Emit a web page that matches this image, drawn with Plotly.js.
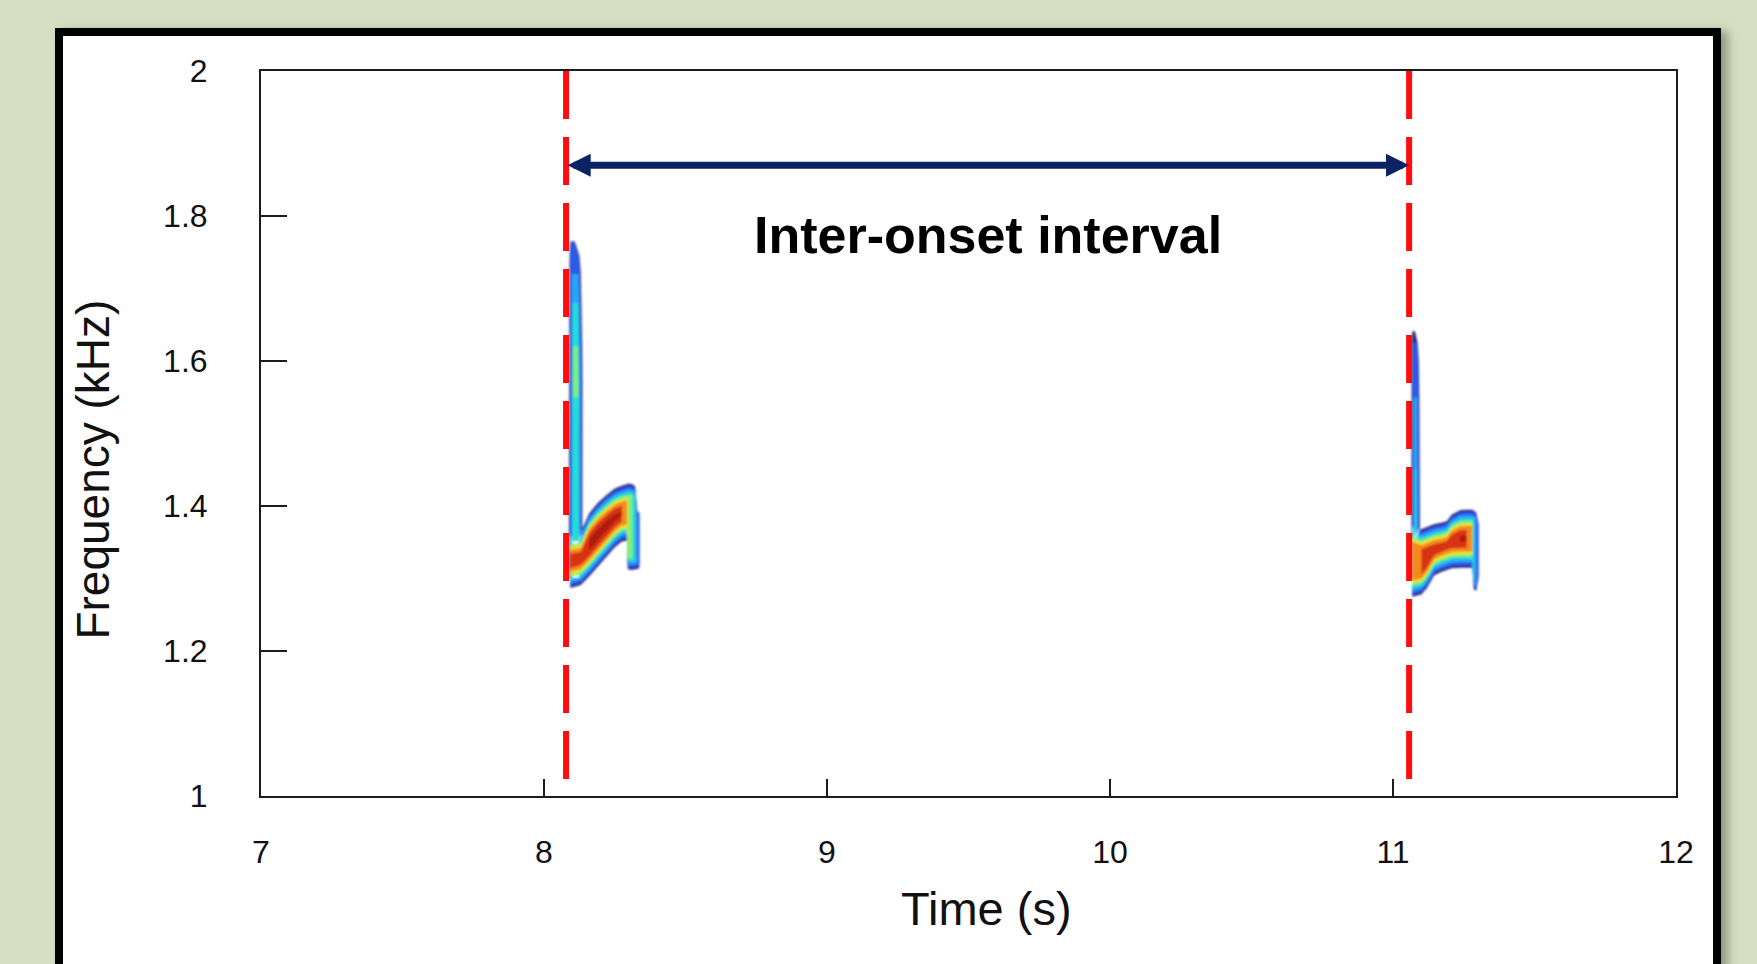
<!DOCTYPE html>
<html>
<head>
<meta charset="utf-8">
<script src="https://cdn.plot.ly/plotly-3.0.1.min.js"></script>
<style>
  html, body { margin: 0; padding: 0; }
  body { background: #d6dfc3; width: 1757px; height: 964px; overflow: hidden; position: relative; }
  #frame { position: absolute; left: 55px; top: 28px; width: 1650px; height: 1000px;
           border: 8px solid #000; background: #fff; box-shadow: 7px 3px 9px rgba(60,70,50,0.45); }
  #chart { position: absolute; left: 0; top: 0; width: 1757px; height: 964px; }
</style>
</head>
<body>
<div id="frame"></div>
<div id="chart"></div>
<script>
// ---------------- data ----------------
const xTickVals = [7, 8, 9, 10, 11, 12];
const xTickText = ['7', '8', '9', '10', '11', '12'];
const yTickVals = [1, 1.2, 1.4, 1.6, 1.8, 2];
const yTickText = ['1', '1.2', '1.4', '1.6', '1.8', '2'];
const xTitle = 'Time (s)';
const yTitle = 'Frequency (kHz)';

const onsets = [8.078, 11.057];        // s, call onsets (red dashed lines)
const arrowFreq = 1.87;                // kHz, height of the interval arrow
const labelFreq = 1.774;               // kHz, height of the label
const labelText = 'Inter-onset interval';

// Call 1: vertical stem (band across time, sampled along frequency)
const stem1F     = [1.300, 1.400, 1.500, 1.550, 1.570, 1.620, 1.645, 1.680, 1.720, 1.745, 1.765];
const stem1Left  = [8.088, 8.088, 8.088, 8.088, 8.088, 8.088, 8.088, 8.089, 8.090, 8.091, 8.093];
const stem1Right = [8.135, 8.135, 8.135, 8.136, 8.136, 8.135, 8.134, 8.133, 8.130, 8.125, 8.109];
const stem1Level = [3, 3, 3, 4, 4, 4, 3, 3, 2, 1, 1];

// Call 1: rising body (band across frequency, sampled along time)
const body1T     = [8.093, 8.130, 8.160, 8.190, 8.220, 8.250, 8.275, 8.293, 8.296, 8.303, 8.312, 8.322, 8.330, 8.337];
const body1Low   = [1.287, 1.291, 1.303, 1.316, 1.329, 1.343, 1.351, 1.352, 1.313, 1.312, 1.312, 1.312, 1.313, 1.315];
const body1High  = [1.362, 1.364, 1.390, 1.404, 1.415, 1.424, 1.428, 1.430, 1.431, 1.431, 1.430, 1.427, 1.393, 1.390];
const body1Level = [7, 7, 8, 8, 8, 8, 8, 6, 5, 4, 4, 3, 2, 1];

// Call 2: vertical stem
const stem2F     = [1.300, 1.400, 1.450, 1.500, 1.550, 1.600, 1.625, 1.641];
const stem2Left  = [11.065, 11.065, 11.065, 11.065, 11.065, 11.065, 11.066, 11.068];
const stem2Right = [11.096, 11.095, 11.094, 11.094, 11.093, 11.091, 11.087, 11.078];
const stem2Level = [3, 3, 3, 2, 2, 1, 1, 0];

// Call 2: body
const body2T     = [11.068, 11.100, 11.120, 11.145, 11.170, 11.190, 11.207, 11.237, 11.260, 11.280, 11.286, 11.294, 11.302];
const body2Low   = [1.275, 1.278, 1.287, 1.304, 1.309, 1.312, 1.314, 1.315, 1.315, 1.315, 1.285, 1.283, 1.300];
const body2High  = [1.373, 1.368, 1.371, 1.375, 1.377, 1.379, 1.388, 1.394, 1.395, 1.395, 1.394, 1.391, 1.377];
const body2Level = [6, 8, 7, 7, 7, 7, 7, 8, 8, 6, 3, 2, 1];

// ---------------- style ----------------
const levelColors = ['#2b2c7e', '#2a5cf0', '#2aa4f6', '#25dcd8', '#86f06c', '#f2e030', '#f58a1a', '#d83212', '#ae1a0a'];
const BODY_INSET_PX = [0, 2.5, 5.5, 8.5, 11, 13.5, 16, 20, 26];
const STEM_INSET_PX = [0, 1.1, 2.3, 3.4, 4.4];

const W = 1757, H = 964;
const margin = { l: 261, r: 81, t: 71, b: 168, pad: 0 };
const xRange = [7, 12], yRange = [1, 2];
const pxPerS = (W - margin.l - margin.r) / (xRange[1] - xRange[0]);
const pxPerKHz = (H - margin.t - margin.b) / (yRange[1] - yRange[0]);

const calls = [
  { stem: { f: stem1F, left: stem1Left, right: stem1Right, level: stem1Level },
    body: { t: body1T, low: body1Low, high: body1High, level: body1Level } },
  { stem: { f: stem2F, left: stem2Left, right: stem2Right, level: stem2Level },
    body: { t: body2T, low: body2Low, high: body2High, level: body2Level } }
];

function runs(levels, k) {
  const out = []; let cur = [];
  levels.forEach((v, i) => {
    if (v >= k) cur.push(i);
    else { if (cur.length > 1) out.push(cur); cur = []; }
  });
  if (cur.length > 1) out.push(cur);
  return out;
}

function bandPolygons(along, lo, hi, levels, k, inset) {
  return runs(levels, k).map(r => {
    const bounds = r.map(i => {
      let l = lo[i] + inset, h = hi[i] - inset;
      if (l > h) { const m = (lo[i] + hi[i]) / 2; l = m; h = m; }
      return [l, h];
    });
    const a = [], c = [];
    r.forEach((i, j) => { a.push(along[i]); c.push(bounds[j][0]); });
    for (let j = r.length - 1; j >= 0; j--) { a.push(along[r[j]]); c.push(bounds[j][1]); }
    a.push(a[0]); c.push(c[0]);
    return { a, c };
  });
}

const traces = [];
for (let k = 0; k < levelColors.length; k++) {
  const xs = [], ys = [];
  calls.forEach(cl => {
    if (k < STEM_INSET_PX.length) {
      bandPolygons(cl.stem.f, cl.stem.left, cl.stem.right, cl.stem.level, k, STEM_INSET_PX[k] / pxPerS)
        .forEach(p => { xs.push(...p.c, null); ys.push(...p.a, null); });
    }
    bandPolygons(cl.body.t, cl.body.low, cl.body.high, cl.body.level, k, BODY_INSET_PX[k] / pxPerKHz)
      .forEach(p => { xs.push(...p.a, null); ys.push(...p.c, null); });
  });
  traces.push({
    type: 'scatter', mode: 'lines', x: xs, y: ys,
    fill: 'toself', fillcolor: levelColors[k],
    line: { width: 0, color: levelColors[k] },
    hoverinfo: 'skip', showlegend: false
  });
}

const axisFont = 'Liberation Sans, Arial, Helvetica, sans-serif';

const shapes = onsets.map(t => ({
  type: 'line', xref: 'x', yref: 'y', x0: t, x1: t, y0: 2, y1: 1.022,
  line: { color: '#ff0d0d', width: 6, dash: '48px,18px' }, layer: 'above'
}));

const annotations = [
  { x: onsets[1], y: arrowFreq, ax: onsets[0], ay: arrowFreq,
    xref: 'x', yref: 'y', axref: 'x', ayref: 'y',
    text: '', font: { size: 1 }, showarrow: true,
    arrowhead: 2, startarrowhead: 2, arrowside: 'end+start',
    arrowsize: 0.66, startarrowsize: 0.66, arrowwidth: 7, arrowcolor: '#0b2263',
    standoff: 0, startstandoff: 0 },
  { x: (onsets[0] + onsets[1]) / 2, y: labelFreq, xref: 'x', yref: 'y',
    text: '<b>' + labelText + '</b>', showarrow: false,
    xanchor: 'center', yanchor: 'middle',
    font: { family: axisFont, size: 52, color: '#000' } },
  // axis titles (placed to match the reference's offset positions)
  { x: 0.5124, y: -0.1545, xref: 'paper', yref: 'paper', text: xTitle, showarrow: false,
    xanchor: 'center', yanchor: 'middle',
    font: { family: axisFont, size: 47, color: '#111' } },
  { x: -0.1194, y: 0.4503, xref: 'paper', yref: 'paper', text: yTitle, showarrow: false,
    textangle: -90, xanchor: 'center', yanchor: 'middle',
    font: { family: axisFont, size: 46, color: '#111' } }
];

const layout = {
  width: W, height: H, margin: margin,
  paper_bgcolor: 'rgba(0,0,0,0)', plot_bgcolor: 'rgba(0,0,0,0)',
  showlegend: false,
  xaxis: {
    range: xRange, tickmode: 'array', tickvals: xTickVals, ticktext: xTickText,
    showline: true, mirror: true, linecolor: '#1c1c1c', linewidth: 2,
    ticks: 'inside', ticklen: 17, tickwidth: 2, tickcolor: '#1c1c1c',
    showgrid: false, zeroline: false, ticklabelstandoff: 27,
    tickfont: { family: axisFont, size: 32, color: '#111' }
  },
  yaxis: {
    range: yRange, tickmode: 'array', tickvals: yTickVals, ticktext: yTickText,
    showline: true, mirror: true, linecolor: '#1c1c1c', linewidth: 2,
    ticks: 'inside', ticklen: 26, tickwidth: 2, tickcolor: '#1c1c1c',
    showgrid: false, zeroline: false, ticklabelstandoff: 45,
    tickfont: { family: axisFont, size: 32, color: '#111' }
  },
  shapes: shapes,
  annotations: annotations
};

Plotly.newPlot('chart', traces, layout, { staticPlot: true, displayModeBar: false }).then(gd => {
  const svg = gd.querySelector('svg.main-svg');
  const ns = 'http://www.w3.org/2000/svg';
  let defs = svg.querySelector('defs');
  if (!defs) { defs = document.createElementNS(ns, 'defs'); svg.insertBefore(defs, svg.firstChild); }
  const filt = document.createElementNS(ns, 'filter');
  filt.setAttribute('id', 'specSoft');
  filt.setAttribute('x', '-20%'); filt.setAttribute('y', '-20%');
  filt.setAttribute('width', '140%'); filt.setAttribute('height', '140%');
  const blur = document.createElementNS(ns, 'feGaussianBlur');
  blur.setAttribute('stdDeviation', '1.3');
  filt.appendChild(blur);
  defs.appendChild(filt);
  gd.querySelectorAll('.scatterlayer').forEach(g => g.setAttribute('filter', 'url(#specSoft)'));
});
</script>
</body>
</html>
